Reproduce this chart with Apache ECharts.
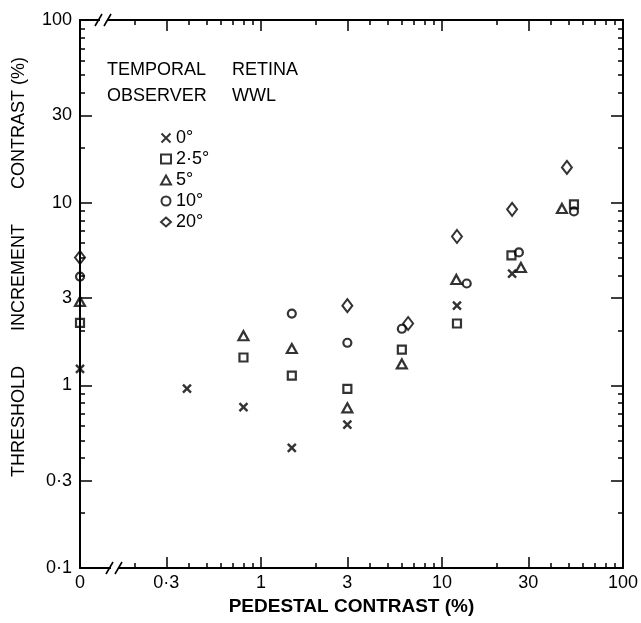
<!DOCTYPE html>
<html>
<head>
<meta charset="utf-8">
<script src="https://cdn.jsdelivr.net/npm/echarts@6/dist/echarts.min.js"></script>
<style>
html, body { margin: 0; padding: 0; background: #fff; }
#chart { width: 641px; height: 623px; }
</style>
</head>
<body>
<div id="chart"></div>
<script>
var FONT = 'Liberation Sans';

// eccentricities (legend)
var legendNames = ['0°', '2·5°', '5°', '10°', '20°'];

// pedestal contrast 0 is plotted at the break (0.1)
var crossX = [0.1, 0.39, 0.8, 1.48, 3, 12.1, 24.4];
var crossY = [1.23, 0.96, 0.76, 0.455, 0.61, 2.73, 4.09];

var squareX = [0.1, 0.8, 1.48, 3, 6, 12.1, 24.2, 53.6];
var squareY = [2.2, 1.42, 1.13, 0.957, 1.57, 2.18, 5.14, 9.79];

var triangleX = [0.1, 0.8, 1.48, 3, 6, 12, 27.3, 46];
var triangleY = [2.88, 1.87, 1.59, 0.753, 1.31, 3.8, 4.42, 9.3];

var circleX = [0.1, 1.48, 3, 6, 13.7, 26.6, 53.6];
var circleY = [3.94, 2.47, 1.71, 2.04, 3.61, 5.34, 8.96];

var diamondX = [0.1, 3, 6.5, 12.1, 24.4, 49];
var diamondY = [5.01, 2.73, 2.18, 6.53, 9.19, 15.6];

// axis ticks / labels
var labelValues = [0.1, 0.3, 1, 3, 10, 30, 100];
var majorTicks = [0.3, 1, 3, 10, 30];
var minorTicks = [0.2, 0.4, 0.5, 0.6, 0.7, 0.8, 0.9, 2, 4, 5, 6, 7, 8, 9, 20, 40, 50, 60, 70, 80, 90];

function pairs(xs, ys) {
	return xs.map(function(x, i) {
		return [x, ys[i]];
	});
}

function fmt(v, zeroAtMin) {
	if (zeroAtMin && v < 0.15) {
		return '0';
	}
	return String(v).replace('.', '·');
}

function logAxis(position, ticks, tickLen, showLine, showLabel, isX) {
	return {
		type : 'log',
		logBase : 10,
		min : 0.1,
		max : 100,
		position : position,
		axisLine : {
			show : showLine,
			onZero : false,
			lineStyle : {
				color : '#000',
				width : 2
			}
		},
		axisTick : {
			show : true,
			inside : true,
			length : tickLen,
			customValues : ticks,
			lineStyle : {
				color : '#000',
				width : 1.5
			}
		},
		minorTick : {
			show : false
		},
		splitLine : {
			show : false
		},
		axisLabel : {
			show : showLabel,
			customValues : labelValues,
			margin : isX ? 6 : 8,
			color : '#000',
			fontFamily : FONT,
			fontSize : 18,
			formatter : function(v) {
				return fmt(v, isX);
			}
		}
	};
}

function scatter(name, symbol, size, width, xs, ys) {
	return {
		name : name,
		type : 'scatter',
		xAxisIndex : 0,
		yAxisIndex : 0,
		symbol : symbol,
		symbolSize : size,
		itemStyle : {
			color : 'rgba(0,0,0,0)',
			borderColor : '#000',
			borderWidth : width
		},
		emphasis : {
			disabled : true
		},
		data : pairs(xs, ys)
	};
}

var chart = echarts.init(document.getElementById('chart'));

var xAxes = [];
var bottomMain = logAxis('bottom', majorTicks, 11, true, true, true);
bottomMain.name = 'PEDESTAL CONTRAST (%)';
bottomMain.nameLocation = 'middle';
bottomMain.nameGap = 28;
bottomMain.nameTextStyle = {
	color : '#000',
	fontFamily : FONT,
	fontSize : 19,
	fontWeight : 'bold'
};
xAxes.push(bottomMain);
xAxes.push(logAxis('bottom', minorTicks, 5, false, false, true));
xAxes.push(logAxis('top', majorTicks, 11, true, false, true));
xAxes.push(logAxis('top', minorTicks, 5, false, false, true));

var yAxes = [];
yAxes.push(logAxis('left', majorTicks, 12, true, true, false));
yAxes.push(logAxis('left', minorTicks, 5, false, false, false));
yAxes.push(logAxis('right', majorTicks, 12, true, false, false));
yAxes.push(logAxis('right', minorTicks, 5, false, false, false));

function label(text, x, y) {
	return {
		type : 'text',
		x : x,
		y : y,
		silent : true,
		style : {
			text : text,
			fill : '#000',
			font : '18px "' + FONT + '"',
			verticalAlign : 'middle'
		}
	};
}

function breakMark(x, y) {
	return [ {
		type : 'rect',
		silent : true,
		shape : {
			x : x + 3,
			y : y - 3,
			width : 8,
			height : 6
		},
		style : {
			fill : '#fff'
		},
		z : 100
	}, {
		type : 'line',
		silent : true,
		shape : {
			x1 : x - 2,
			y1 : y + 6,
			x2 : x + 5,
			y2 : y - 6
		},
		style : {
			stroke : '#000',
			lineWidth : 1.6
		},
		z : 101
	}, {
		type : 'line',
		silent : true,
		shape : {
			x1 : x + 7,
			y1 : y + 6,
			x2 : x + 14,
			y2 : y - 6
		},
		style : {
			stroke : '#000',
			lineWidth : 1.6
		},
		z : 101
	} ];
}

var graphics = [ label('TEMPORAL', 107, 70), label('RETINA', 232, 70), label('OBSERVER', 107, 96),
		label('WWL', 232, 96), {
			type : 'text',
			x : 19,
			y : 267,
			rotation : Math.PI / 2,
			silent : true,
			style : {
				text : 'THRESHOLD       INCREMENT       CONTRAST (%)',
				fill : '#000',
				font : '18px "' + FONT + '"',
				align : 'center',
				verticalAlign : 'middle'
			}
		} ].concat(breakMark(108, 568)).concat(breakMark(97, 20));

var option = {
	animation : false,
	backgroundColor : '#fff',
	grid : {
		left : 80,
		right : 14,
		top : 20,
		bottom : 55,
		containLabel : false
	},
	legend : {
		data : legendNames,
		orient : 'vertical',
		left : 160,
		top : 129,
		padding : 0,
		itemWidth : 10,
		itemHeight : 9,
		itemGap : 3,
		selectedMode : false,
		textStyle : {
			color : '#000',
			fontFamily : FONT,
			fontSize : 18
		}
	},
	xAxis : xAxes,
	yAxis : yAxes,
	series : [ scatter(legendNames[0], 'path://M0,0L10,10M10,0L0,10', 8, 2.4, crossX, crossY),
			scatter(legendNames[1], 'rect', 8, 2.2, squareX, squareY),
			scatter(legendNames[2], 'triangle', [10, 9], 2.2, triangleX, triangleY),
			scatter(legendNames[3], 'circle', 8, 2.2, circleX, circleY),
			scatter(legendNames[4], 'diamond', [10, 13], 2, diamondX, diamondY) ],
	graphic : graphics
};
chart.setOption(option);
</script>
</body>
</html>
